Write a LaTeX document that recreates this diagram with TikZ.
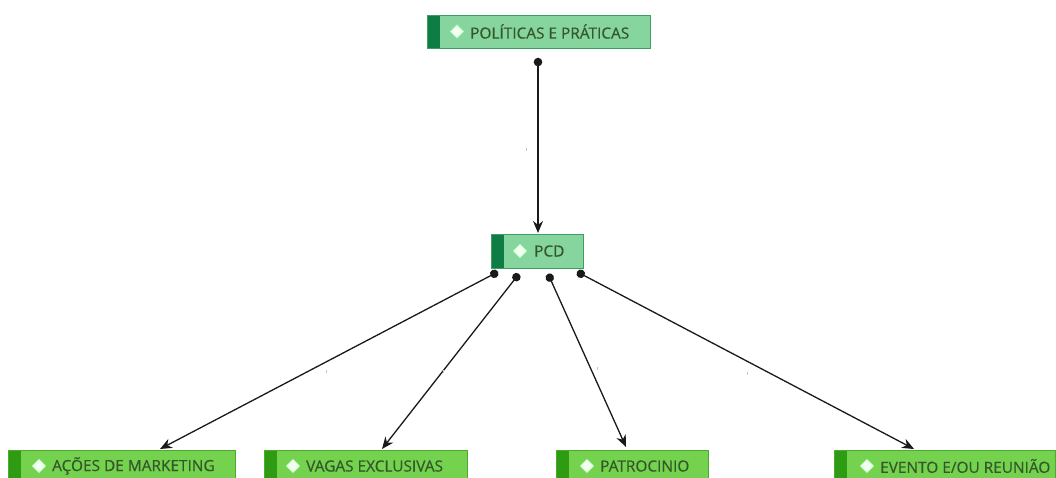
\documentclass[tikz,border=0pt]{standalone}
\usepackage{fontspec}
\setmainfont{Open Sans}[FakeBold=0.5]
\usetikzlibrary{arrows.meta,calc}
\definecolor{topfill}{HTML}{86D59E}
\definecolor{topedge}{HTML}{3E9E60}
\definecolor{topstrip}{HTML}{0E7C45}
\definecolor{leaffill}{HTML}{74D24F}
\definecolor{leafedge}{HTML}{4DAA2E}
\definecolor{leafstrip}{HTML}{2E9C12}
\definecolor{labelink}{HTML}{35582A}
\definecolor{wire}{HTML}{1A1A1A}
\tikzset{
  box/.style={draw, line width=0.8pt, rectangle, inner sep=0pt, anchor=north west},
  upperbox/.style={box, draw=topedge, fill=topfill,
    path picture={\fill[topstrip] (path picture bounding box.north west) rectangle ([xshift=13pt]path picture bounding box.south west);}},
  leafbox/.style={box, draw=leafedge, fill=leaffill,
    path picture={\fill[leafstrip] (path picture bounding box.north west) rectangle ([xshift=13pt]path picture bounding box.south west);}},
  gem/.style={draw=green!30!white, line width=0.6pt, fill=green!6!white, rectangle, rotate=45,
    minimum size=9.5pt, inner sep=0pt},
  caption/.style={anchor=west, inner sep=0pt, text=labelink, font=\fontsize{15.4}{17}\selectfont},
  link/.style={draw=wire, line width=1.3pt, {Circle[length=8.5pt]}-{Stealth[length=12pt,width=10pt]}},
  tick/.style={fill=gray!45, minimum width=0.8pt, minimum height=2.5pt, inner sep=0pt}
}
\begin{document}
\begin{tikzpicture}[x=1pt,y=-1pt]
\useasboundingbox (0,0) rectangle (1056,478);
\fill[white] (0,0) rectangle (1056,478);

% upper level
\node[upperbox, minimum width=223pt, minimum height=33pt] (pol) at (427,15) {};
\node[gem] (polgem) at (457,31.5) {};
\node[caption] (poltxt) at (470,31.5) {POLÍTICAS E PRÁTICAS};

\node[upperbox, minimum width=92pt, minimum height=34pt] (pcd) at (491,234) {};
\node[gem] (pcdgem) at (520,251) {};
\node[caption] (pcdtxt) at (534,251) {PCD};

% leaf level
\node[leafbox, minimum width=227pt, minimum height=34pt] (mkt) at (8,450) {};
\node[gem] (mktgem) at (39,466) {};
\node[caption] (mkttxt) at (52,466) {AÇÕES DE MARKETING};

\node[leafbox, minimum width=203pt, minimum height=34pt] (vag) at (264,450) {};
\node[gem] (vaggem) at (293,466) {};
\node[caption] (vagtxt) at (306,466) {VAGAS EXCLUSIVAS};

\node[leafbox, minimum width=152pt, minimum height=34pt] (pat) at (556,450) {};
\node[gem] (patgem) at (587,466) {};
\node[caption] (pattxt) at (600,466) {PATROCINIO};

\node[leafbox, minimum width=221pt, minimum height=34pt] (evt) at (834,450) {};
\node[gem] (evtgem) at (867,466) {};
\node[caption] (evttxt) at (880,466) {EVENTO E/OU REUNIÃO};

% connector end points
\coordinate (polout) at ($(pol.south west)+(111,9)$);
\coordinate (pcdin)  at ($(pcd.north west)+(47,-1)$);
\coordinate (o1) at ($(pcd.south west)+(7,3)$);
\coordinate (o2) at ($(pcd.south west)+(28,5)$);
\coordinate (o3) at ($(pcd.south west)+(57,5)$);
\coordinate (o4) at ($(pcd.south west)+(86,3)$);
\coordinate (i1) at ($(mkt.north west)+(152,-1)$);
\coordinate (i2) at ($(vag.north west)+(118,-1)$);
\coordinate (i3) at ($(pat.north west)+(70,-3)$);
\coordinate (i4) at ($(evt.north west)+(80,-1)$);

% connectors
\draw[link] (polout) -- node[tick, xshift=-12pt, yshift=-4pt] {} (pcdin);
\draw[link] (o1) -- node[tick, xshift=-3pt, yshift=-11pt] {} (i1);
\draw[link] (o2) -- node[tick, xshift=-7pt, yshift=-10pt] {} (i2);
\draw[link] (o3) -- node[tick, xshift=10pt, yshift=-8pt] {} (i3);
\draw[link] (o4) -- node[tick, xshift=2pt, yshift=-13pt] {} (i4);
\end{tikzpicture}
\end{document}
